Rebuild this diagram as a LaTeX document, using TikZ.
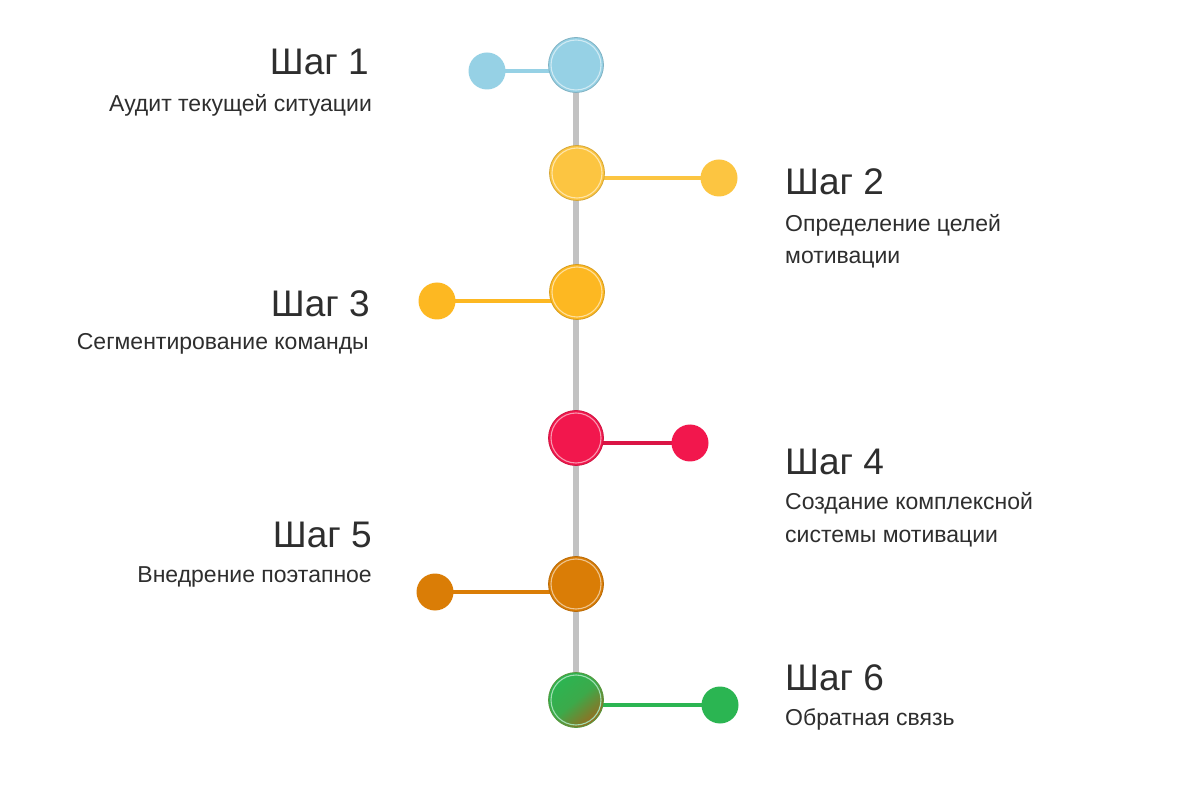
\documentclass[tikz,border=0pt]{standalone}
\usepackage{fontspec}
\setmainfont{Liberation Sans}
\usetikzlibrary{backgrounds}
\definecolor{cA}{HTML}{96D1E5}
\definecolor{cB}{HTML}{FCC541}
\definecolor{cC}{HTML}{FDB822}
\definecolor{cD}{HTML}{F2174D}
\definecolor{cE}{HTML}{DA7D06}
\definecolor{cF}{HTML}{2BB552}
\definecolor{cFb}{HTML}{9A6A1E}
\definecolor{txt}{HTML}{2E2E2E}
\definecolor{axis}{HTML}{C2C2C2}
\tikzset{
  bigdot/.style={circle, minimum size=55pt, inner sep=0pt, fill=#1, draw=#1!85!black, line width=0.8pt},
  smalldot/.style={circle, minimum size=37pt, inner sep=0pt, fill=#1, draw=none},
  ring/.style={draw=white!55!#1, line width=1.1pt},
  link/.style={draw=#1, line width=3.2pt},
  title/.style={font=\fontsize{37}{40}\selectfont, text=txt, inner sep=0pt},
  sub/.style={font=\fontsize{23}{32}\selectfont, text=txt, inner sep=0pt},
}
\begin{document}
\begin{tikzpicture}[x=1pt, y=-1pt]
\useasboundingbox (0,0) rectangle (1200,791);

% big dots
\node[bigdot=cA] (b1) at (576,65) {};
\node[bigdot=cB] (b2) at (577,173) {};
\node[bigdot=cC] (b3) at (577,292) {};
\node[bigdot=cD] (b4) at (576,438) {};
\node[bigdot=cE] (b5) at (576,584) {};
\node[circle, minimum size=55pt, inner sep=0pt, left color=cF, right color=cFb, middle color=cF!85!cFb, shading angle=40, draw=cF!60!cFb, line width=0.8pt] (b6) at (576,700) {};

\draw[ring=cA] (b1.center) circle (25);
\draw[ring=cB] (b2.center) circle (25);
\draw[ring=cC] (b3.center) circle (25);
\draw[ring=cD] (b4.center) circle (25);
\draw[ring=cE] (b5.center) circle (25);
\draw[ring=cF] (b6.center) circle (25);

% small dots
\node[smalldot=cA] (s1) at (487,71) {};
\node[smalldot=cB] (s2) at (719,178) {};
\node[smalldot=cC] (s3) at (437,301) {};
\node[smalldot=cD] (s4) at (690,443) {};
\node[smalldot=cE] (s5) at (435,592) {};
\node[smalldot=cF] (s6) at (720,705) {};

\begin{scope}[on background layer]
\fill[white] (0,0) rectangle (1200,791);
\draw[draw=axis, line width=6pt] (b1.center) -- (b6.center);
\draw[link=cA] (s1.center) -- (s1.center -| b1.center);
\draw[link=cB] (s2.center) -- (s2.center -| b2.center);
\draw[link=cC] (s3.center) -- (s3.center -| b3.center);
\draw[link=cD!90!black] (s4.center) -- (s4.center -| b4.center);
\draw[link=cE] (s5.center) -- (s5.center -| b5.center);
\draw[link=cF] (s6.center) -- (s6.center -| b6.center);
\end{scope}

% labels
\node[title, anchor=base east] (t1) at (369,75) {Шаг 1};
\node[sub, anchor=base east] (d1) at (372,112) {Аудит текущей ситуации};

\node[title, anchor=base west] (t2) at (785,195) {Шаг 2};
\node[sub, anchor=base west] (d2) at (785,232) {Определение целей};
\node[sub, anchor=base west] (d2b) at (785,264) {мотивации};

\node[title, anchor=base east] (t3) at (370,317) {Шаг 3};
\node[sub, anchor=base east] (d3) at (369,350) {Сегментирование команды};

\node[title, anchor=base west] (t4) at (785,475) {Шаг 4};
\node[sub, anchor=base west] (d4) at (785,510) {Создание комплексной};
\node[sub, anchor=base west] (d4b) at (785,542) {системы мотивации};

\node[title, anchor=base east] (t5) at (372,547) {Шаг 5};
\node[sub, anchor=base east] (d5) at (372,582) {Внедрение поэтапное};

\node[title, anchor=base west] (t6) at (785,690) {Шаг 6};
\node[sub, anchor=base west] (d6) at (785,725) {Обратная связь};
\end{tikzpicture}
\end{document}
